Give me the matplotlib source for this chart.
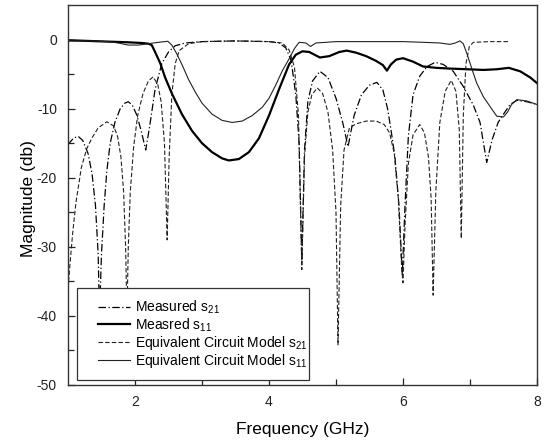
import matplotlib.pyplot as plt
from matplotlib.legend_handler import HandlerLine2D
import numpy as np

plt.rcParams['font.family'] = ['Liberation Sans', 'DejaVu Sans']
plt.rcParams['mathtext.fontset'] = 'custom'
plt.rcParams['mathtext.rm'] = 'Liberation Sans'
plt.rcParams['mathtext.it'] = 'Liberation Sans'
plt.rcParams['axes.unicode_minus'] = False

# Measured s21 (dash-dot)
f_ms21 = [1.0, 1.08, 1.15, 1.22, 1.3, 1.36, 1.41, 1.45, 1.47, 1.5, 1.54, 1.58, 1.63, 1.7, 1.78, 1.85, 1.9,
          1.96, 2.03, 2.1, 2.16, 2.22, 2.3, 2.4, 2.5, 2.6, 2.75, 3.0, 3.5, 4.0, 4.15, 4.25, 4.33, 4.4, 4.45,
          4.49, 4.53, 4.58, 4.65, 4.76, 4.88, 5.0, 5.1, 5.18, 5.27, 5.38, 5.5, 5.61, 5.7, 5.77, 5.82, 5.88,
          5.94, 5.99, 6.03, 6.08, 6.15, 6.25, 6.36, 6.48, 6.6, 6.75, 6.9, 7.05, 7.15, 7.25, 7.33, 7.42,
          7.5, 7.6, 7.7, 7.85, 8.0]
db_ms21 = [-15.2, -14.3, -14.0, -14.6, -16.5, -19.5, -24.0, -31.0, -40.0, -31.0, -24.0, -19.0, -15.0,
           -12.0, -10.0, -9.2, -9.0, -9.5, -11.0, -13.5, -16.0, -12.5, -7.2, -3.5, -1.8, -0.9, -0.5,
           -0.3, -0.2, -0.3, -0.5, -1.2, -3.0, -8.0, -15.0, -32.0, -16.0, -9.0, -6.0, -4.6, -5.5, -8.5,
           -12.0, -15.5, -11.0, -8.0, -6.6, -6.2, -7.3, -10.0, -13.0, -17.0, -24.0, -34.0, -24.0, -14.0,
           -8.0, -5.3, -3.9, -3.3, -3.6, -4.6, -6.8, -9.5, -12.0, -17.8, -14.5, -12.0, -10.8, -9.4, -8.8,
           -9.0, -9.4]

# Measred s11 (thick solid)
f_ms11 = [1.0, 1.3, 1.6, 1.9, 2.1, 2.2, 2.25, 2.3, 2.38, 2.45, 2.55, 2.7, 2.85, 3.0, 3.15, 3.3, 3.4,
          3.55, 3.7, 3.85, 4.0, 4.15, 4.3, 4.4, 4.5, 4.6, 4.76, 4.9, 5.05, 5.16, 5.3, 5.45, 5.6, 5.7,
          5.76, 5.82, 5.9, 6.0, 6.15, 6.3, 6.5, 6.7, 6.96, 7.2, 7.4, 7.58, 7.75, 7.9, 8.0]
db_ms11 = [-0.1, -0.2, -0.3, -0.4, -0.5, -0.6, -0.8, -1.8, -3.5, -5.5, -7.8, -10.8, -13.2, -15.0, -16.3,
           -17.2, -17.5, -17.3, -16.3, -14.3, -11.0, -7.2, -3.6, -2.2, -1.7, -1.8, -2.6, -2.4, -1.8,
           -1.6, -1.9, -2.4, -3.1, -3.7, -4.5, -3.6, -2.9, -2.7, -3.2, -3.9, -4.1, -4.2, -4.3, -4.4,
           -4.3, -4.1, -4.6, -5.5, -6.3]

# Equivalent Circuit Model s21 (dashed)
f_es21 = [1.0, 1.03, 1.07, 1.12, 1.2, 1.28, 1.36, 1.45, 1.58, 1.68, 1.74, 1.79, 1.83, 1.86, 1.88,
          1.9, 1.93, 1.98, 2.04, 2.12, 2.2, 2.27, 2.34, 2.39, 2.44, 2.48, 2.51, 2.55, 2.6, 2.66, 2.8,
          3.0, 3.5, 4.0, 4.2, 4.3, 4.38, 4.44, 4.49, 4.53, 4.58, 4.64, 4.72, 4.8, 4.88, 4.95, 5.0, 5.03,
          5.07, 5.12, 5.2, 5.3, 5.45, 5.6, 5.72, 5.8, 5.87, 5.93, 5.98, 6.0, 6.03, 6.08, 6.15, 6.25,
          6.32, 6.38, 6.42, 6.45, 6.49, 6.55, 6.63, 6.72, 6.79, 6.84, 6.87, 6.9, 6.94, 6.99, 7.05, 7.3,
          7.6]
db_es21 = [-36.0, -32.5, -28.0, -23.5, -18.5, -15.8, -14.2, -12.8, -11.9, -12.5, -14.0, -17.0, -22.0,
           -30.0, -40.0, -30.0, -22.0, -15.5, -11.0, -7.8, -6.0, -5.4, -6.5, -9.0, -15.0, -29.0, -17.0,
           -8.0, -3.5, -1.6, -0.6, -0.3, -0.2, -0.3, -0.5, -1.5, -4.0, -11.0, -33.3, -17.0, -10.5,
           -8.0, -7.0, -7.8, -10.5, -16.0, -25.0, -44.2, -24.0, -16.0, -12.8, -12.2, -11.8, -11.8,
           -12.3, -13.5, -16.5, -23.0, -33.0, -35.2, -27.0, -18.0, -13.8, -12.3, -13.5, -17.0, -23.0,
           -37.0, -22.0, -12.0, -7.5, -5.9, -7.5, -13.0, -28.8, -11.0, -3.5, -1.0, -0.4, -0.3, -0.3]

# Equivalent Circuit Model s11 (thin solid)
f_es11 = [1.0, 1.3, 1.6, 1.75, 1.9, 2.05, 2.2, 2.35, 2.49, 2.55, 2.62, 2.7, 2.8, 2.9, 3.0, 3.15, 3.3,
          3.45, 3.6, 3.75, 3.9, 4.0, 4.1, 4.2, 4.3, 4.38, 4.45, 4.55, 4.62, 4.7, 5.0, 5.5, 6.0, 6.3,
          6.55, 6.7, 6.78, 6.85, 6.9, 6.96, 7.03, 7.1, 7.2, 7.3, 7.4, 7.5, 7.56, 7.62, 7.7, 7.85, 8.0]
db_es11 = [-0.2, -0.2, -0.3, -0.5, -0.8, -0.8, -0.6, -0.4, -0.25, -0.8, -2.0, -3.6, -5.8, -7.6, -9.2,
           -10.8, -11.7, -12.0, -11.8, -11.0, -9.8, -8.5, -6.6, -4.5, -2.8, -1.3, -0.4, -0.5, -1.0,
           -0.5, -0.3, -0.3, -0.3, -0.4, -0.5, -0.7, -0.5, -0.2, -0.6, -2.2, -4.3, -6.3, -8.3, -9.7,
           -11.1, -11.2, -10.5, -9.4, -8.7, -8.9, -9.4]

fig = plt.figure(figsize=(5.47, 4.46), dpi=100)
ax = fig.add_axes([0.1243, 0.1368, 0.8574, 0.852])

ax.plot(f_ms21, db_ms21, color='black', lw=0.9, linestyle=(0, (6, 2, 1, 2)), label='Measured s$_{\\mathregular{21}}$')
ax.plot(f_ms11, db_ms11, color='black', lw=1.6, label='Measred s$_{\\mathregular{11}}$')
ax.plot(f_es21, db_es21, color='#222222', lw=0.8, linestyle=(0, (4, 2)), label='Equivalent Circuit Model s$_{\\mathregular{21}}$')
ax.plot(f_es11, db_es11, color='#222222', lw=0.8, label='Equivalent Circuit Model s$_{\\mathregular{11}}$')

ax.set_xlim(1, 8)
ax.set_ylim(-50, 5)
ax.set_xticks([2, 4, 6, 8])
ax.set_xticks([3, 5, 7], minor=True)
ax.set_yticks([-50, -40, -30, -20, -10, 0])
ax.set_yticks([-45, -35, -25, -15, -5], minor=True)
ax.tick_params(which='both', direction='in', top=False, right=False, labelsize=10, colors='#222222')
ax.tick_params(which='major', length=5, width=0.9)
ax.tick_params(axis='x', which='major', pad=7)
ax.tick_params(axis='y', which='major', pad=8)
ax.tick_params(which='minor', length=4, width=0.9)
for s in ax.spines.values():
    s.set_linewidth(1.0)
    s.set_color('#333333')

ax.set_xlabel('Frequency (GHz)', fontsize=12.5)
ax.set_ylabel('Magnitude (db)', fontsize=12.5)
ax.xaxis.set_label_coords(0.5, -0.098)
ax.yaxis.set_label_coords(-0.068, 0.49)

h = HandlerLine2D(xpad=0.75)
leg = ax.legend(loc='lower left', bbox_to_anchor=(0.019, 0.013, 0.495, 0.25), mode='expand',
                fontsize=10, frameon=True, fancybox=False, framealpha=1, edgecolor='#333333',
                handlelength=3.05, handletextpad=0.35, borderpad=0.75, labelspacing=0.0,
                borderaxespad=0, handler_map={l: h for l in ax.get_lines()})
leg.get_frame().set_linewidth(0.9)

fig.savefig('out.png', dpi=100)
